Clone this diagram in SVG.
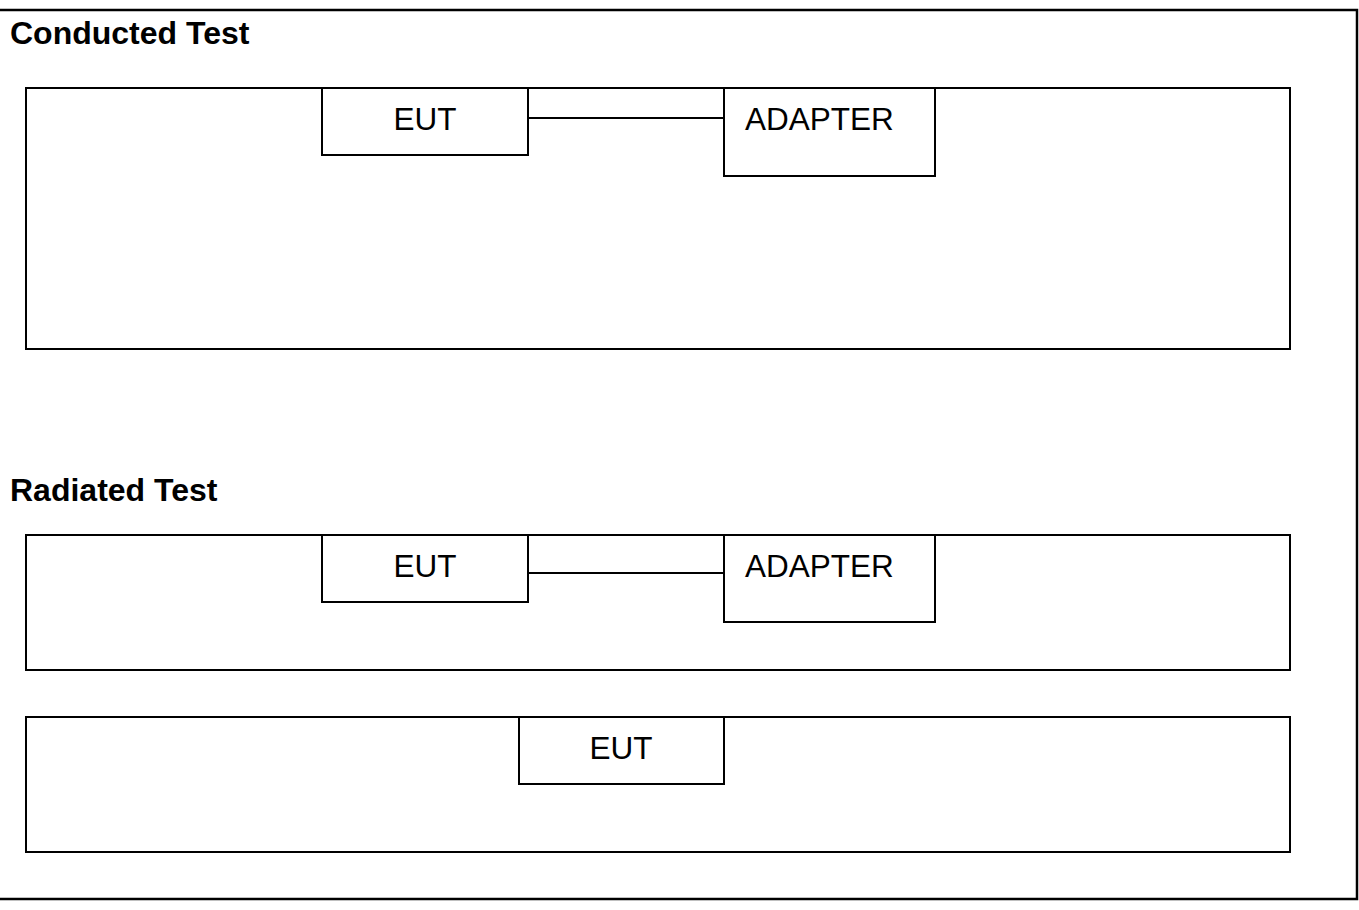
<svg xmlns="http://www.w3.org/2000/svg" width="1359" height="910" viewBox="0 0 1359 910">
<style>
.box{fill:#fff;stroke:#000;stroke-width:2}
.frame{fill:none;stroke:#000;stroke-width:2.5}
.lbl{font-family:"Liberation Sans",Arial,sans-serif;font-size:31.5px;fill:#000}
.title{font-family:"Liberation Sans",Arial,sans-serif;font-size:32px;font-weight:bold;fill:#000}
.wire{stroke:#000;stroke-width:2;fill:none}
</style>
<rect x="0" y="0" width="1359" height="910" fill="#fff"/>
<path class="frame" d="M0 10 H1357 V899 H0"/>
<text class="title" x="10" y="44">Conducted Test</text>
<text class="title" x="10" y="501">Radiated Test</text>
<g id="conducted-area"><rect class="box" x="26" y="88" width="1264" height="261"/></g>
<g id="radiated-area-1"><rect class="box" x="26" y="535" width="1264" height="135"/></g>
<g id="radiated-area-2"><rect class="box" x="26" y="717" width="1264" height="135"/></g>
<g id="eut-c"><rect class="box" x="322" y="88" width="206" height="67"/><text class="lbl" x="425" y="130" text-anchor="middle">EUT</text></g>
<g id="adapter-c"><rect class="box" x="724" y="88" width="211" height="88"/><text class="lbl" x="745" y="130">ADAPTER</text></g>
<g id="eut-r1"><rect class="box" x="322" y="535" width="206" height="67"/><text class="lbl" x="425" y="577" text-anchor="middle">EUT</text></g>
<g id="adapter-r1"><rect class="box" x="724" y="535" width="211" height="87"/><text class="lbl" x="745" y="577">ADAPTER</text></g>
<g id="eut-r2"><rect class="box" x="519" y="717" width="205" height="67"/><text class="lbl" x="621" y="759" text-anchor="middle">EUT</text></g>
<g id="connectors">
<line class="wire" x1="528" y1="118" x2="724" y2="118"/>
<line class="wire" x1="528" y1="573" x2="724" y2="573"/>
</g>
</svg>
